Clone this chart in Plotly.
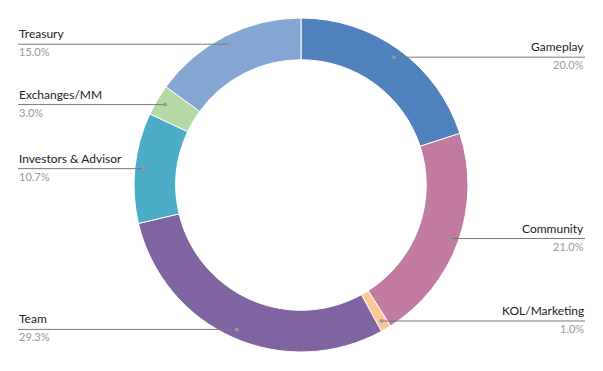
import math
import plotly.graph_objects as go

labels = ["Gameplay", "Community", "KOL/Marketing", "Team", "Investors & Advisor", "Exchanges/MM", "Treasury"]
values = [20.0, 21.0, 1.0, 29.3, 10.7, 3.0, 15.0]
colors = ["#4F81BD", "#C27BA0", "#F9C896", "#8064A2", "#4BACC6", "#B5D9A6", "#83A7D2"]

OFF = 8  # page body margin
W, H = 603 - OFF, 371 - OFF
CX, CY = 301 - OFF, 185 - OFF
R_OUT = 167
R_DOT = 158
X_LEFT, X_RIGHT = 18 - OFF, 585 - OFF

fig = go.Figure()
fig.add_trace(go.Pie(
    labels=labels, values=values, sort=False, direction="clockwise", rotation=0,
    hole=0.75, textinfo="none", hoverinfo="label+percent",
    marker=dict(colors=colors, line=dict(color="white", width=1)),
    domain=dict(x=[(CX - R_OUT) / W, (CX + R_OUT) / W], y=[1 - (CY + R_OUT) / H, 1 - (CY - R_OUT) / H]),
    showlegend=False,
))

shapes = []
annotations = []
total = sum(values)
cum = 0
for lab, v in zip(labels, values):
    mid = (cum + v / 2) / total * 2 * math.pi
    cum += v
    px = CX + R_DOT * math.sin(mid)
    py = CY - R_DOT * math.cos(mid)
    right = px > CX
    xe = X_RIGHT if right else X_LEFT
    shapes.append(dict(type="line", xref="paper", yref="paper",
                       x0=px / W, x1=xe / W, y0=1 - py / H, y1=1 - py / H,
                       line=dict(color="#7a7a7a", width=1)))
    shapes.append(dict(type="circle", xref="paper", yref="paper",
                       x0=(px - 2) / W, x1=(px + 2) / W, y0=1 - (py - 2) / H, y1=1 - (py + 2) / H,
                       fillcolor="#999999", line=dict(width=0)))
    tx = xe + 1 if right else xe - 1
    anchor = "right" if right else "left"
    annotations.append(dict(x=tx / W, y=1 - (py - 1) / H, xref="paper", yref="paper",
                            text=lab, showarrow=False, xanchor=anchor, yanchor="bottom",
                            font=dict(family="Lato, Open Sans, sans-serif", size=12, color="#222222")))
    annotations.append(dict(x=tx / W, y=1 - (py - 1) / H, xref="paper", yref="paper",
                            text=f"{v:.1f}%", showarrow=False, xanchor=anchor, yanchor="top",
                            font=dict(family="Lato, Open Sans, sans-serif", size=11, color="#999999")))

fig.update_layout(
    width=W, height=H, margin=dict(l=0, r=0, t=0, b=0),
    paper_bgcolor="white", plot_bgcolor="white",
    shapes=shapes, annotations=annotations,
)
fig.write_html("out.html")
